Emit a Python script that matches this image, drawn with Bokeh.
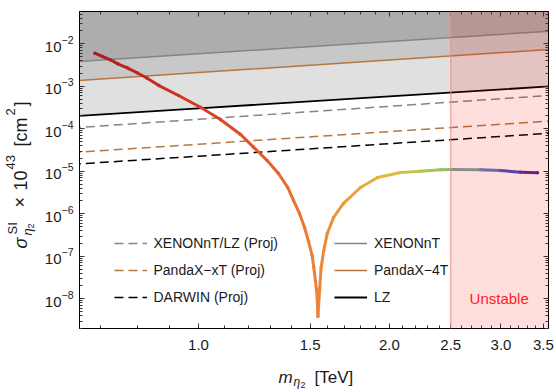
import math
from bokeh.plotting import figure
from bokeh.layouts import row, column
from bokeh.models import (FixedTicker, PrintfTickFormatter, LogTickFormatter, LogAxis,
                          CustomJSTickFormatter, Legend, LegendItem, BoxAnnotation, Span,
                          Label, LogColorMapper, ColumnDataSource)
from bokeh.transform import transform
from bokeh.embed import file_html
from bokeh.resources import INLINE

# ---------------- data ----------------
LIM_M = [0.6, 1.0, 2.0, 3.6]  # TeV
XENONNT = [3.57e-3, 5.83e-3, 1.136e-2, 2.0e-2]
PANDAX_4T = [1.27e-3, 2.10e-3, 4.15e-3, 7.42e-3]
LZ = [1.88e-4, 3.03e-4, 5.78e-4, 1.0e-3]
XENONNT_LZ_PROJ = [9.93e-5, 1.67e-4, 3.38e-4, 6.14e-4]
PANDAX_XT_PROJ = [2.62e-5, 4.33e-5, 8.58e-5, 1.53e-4]
DARWIN_PROJ = [1.38e-5, 2.27e-5, 4.46e-5, 7.89e-5]

CURVE_M = [0.686, 0.705, 0.726, 0.746, 0.772, 0.800, 0.830, 0.866, 0.930, 1.007,
           1.083, 1.165, 1.221, 1.283, 1.337, 1.382, 1.412, 1.443, 1.470, 1.491,
           1.511, 1.520, 1.529, 1.535, 1.539, 1.543,
           1.553, 1.561, 1.576, 1.596, 1.633, 1.693, 1.801, 1.916, 2.083, 2.239,
           2.408, 2.497, 2.786, 2.995, 3.220, 3.425]
CURVE_SIGMA = [6.01e-3, 5.03e-3, 4.20e-3, 3.38e-3, 2.72e-3, 2.08e-3, 1.55e-3, 1.04e-3, 6.07e-4, 3.22e-4,
               1.66e-4, 7.35e-5, 3.69e-5, 1.79e-5, 8.87e-6, 4.22e-6, 2.06e-6, 1.02e-6, 4.76e-7, 2.23e-7,
               1.04e-7, 5.45e-8, 2.70e-8, 1.57e-8, 1.02e-8, 3.84e-9,
               1.75e-8, 5.45e-8, 1.37e-7, 3.44e-7, 8.18e-7, 1.75e-6, 4.16e-6, 7.15e-6, 9.37e-6, 1.00e-5,
               1.08e-5, 1.10e-5, 1.08e-5, 1.04e-5, 9.53e-6, 9.23e-6]

X_TICKS = [1.0, 1.5, 2.0, 2.5, 3.0, 3.5]
X_MINOR = [0.7, 0.8, 0.9, 1.1, 1.2, 1.3, 1.4, 1.6, 1.7, 1.8, 1.9, 2.1, 2.2, 2.3, 2.4,
           2.6, 2.7, 2.8, 2.9, 3.1, 3.2, 3.3, 3.4]
Y_EXPONENTS = [-8, -7, -6, -5, -4, -3, -2]
UNSTABLE_FROM = 2.5
UNSTABLE_TEXT = "Unstable"
UNSTABLE_POS = (2.98, 1.0e-8)

X_RANGE = (0.649, 3.565)
Y_RANGE = (2.0e-9, 5.75e-2)

# ---------------- styles ----------------
FONT = "Liberation Sans"
TXT = "#1a1a1a"
GRAY_LINE = "#858585"
BROWN = "#b5773d"
COLOR_STOPS = [(0.686, "#a81c22"), (0.85, "#c42a22"), (1.0, "#d83c24"), (1.25, "#e5562a"),
               (1.54, "#ec843a"), (1.8, "#e6aa3a"), (2.08, "#d8c23e"), (2.24, "#b8c64a"),
               (2.41, "#98c262"), (2.59, "#80ae8e"), (2.79, "#6a8cc2"), (2.99, "#5262c6"),
               (3.22, "#4a36b0"), (3.43, "#6a1890")]

YLAB_W = 36
MAIN_W, MAIN_H = 519, 355
XLAB_H = 36
BORDER_L = 43


def build_palette(stops, n=256):
    lo, hi = math.log(stops[0][0]), math.log(stops[-1][0])
    pos = [(math.log(m) - lo) / (hi - lo) for m, _ in stops]
    cols = [tuple(int(c[i:i + 2], 16) for i in (1, 3, 5)) for _, c in stops]
    out = []
    for k in range(n):
        f = k / (n - 1)
        j = 0
        while j < len(pos) - 2 and f > pos[j + 1]:
            j += 1
        t = (f - pos[j]) / (pos[j + 1] - pos[j])
        t = min(max(t, 0.0), 1.0)
        rgb = [round(cols[j][i] + (cols[j + 1][i] - cols[j][i]) * t) for i in range(3)]
        out.append("#%02x%02x%02x" % tuple(rgb))
    return out


p = figure(width=MAIN_W, height=MAIN_H, x_axis_type="log", y_axis_type="log",
           x_range=X_RANGE, y_range=Y_RANGE, output_backend="svg", toolbar_location=None,
           min_border_left=BORDER_L, min_border_right=7, min_border_top=11, min_border_bottom=27)
p.grid.visible = False
p.outline_line_color = "black"
p.outline_line_width = 1

# excluded bands
top = [Y_RANGE[1] * 10] * len(LIM_M)
p.varea(x=LIM_M, y1=LZ, y2=top, fill_color="#e0e0e0")
p.varea(x=LIM_M, y1=PANDAX_4T, y2=top, fill_color="#c8c8c8")
p.varea(x=LIM_M, y1=XENONNT, y2=top, fill_color="#adadad")

r_xe = p.line(LIM_M, XENONNT, line_color=GRAY_LINE, line_width=1.5)
r_pd = p.line(LIM_M, PANDAX_4T, line_color=BROWN, line_width=1.5)
r_lz = p.line(LIM_M, LZ, line_color="black", line_width=1.8)
r_xep = p.line(LIM_M, XENONNT_LZ_PROJ, line_color=GRAY_LINE, line_width=1.5, line_dash="9 5")
r_pdp = p.line(LIM_M, PANDAX_XT_PROJ, line_color=BROWN, line_width=1.5, line_dash="9 5")
r_dw = p.line(LIM_M, DARWIN_PROJ, line_color="black", line_width=1.5, line_dash="9 5")

# the model curve, coloured along the mass
mapper = LogColorMapper(palette=build_palette(COLOR_STOPS), low=COLOR_STOPS[0][0], high=COLOR_STOPS[-1][0])
seg = ColumnDataSource(dict(x0=CURVE_M[:-1], y0=CURVE_SIGMA[:-1], x1=CURVE_M[1:], y1=CURVE_SIGMA[1:],
                            mc=[math.sqrt(a * b) for a, b in zip(CURVE_M[:-1], CURVE_M[1:])]))
p.segment(x0="x0", y0="y0", x1="x1", y1="y1", source=seg, line_width=3,
          line_color=transform("mc", mapper))
pts = ColumnDataSource(dict(m=CURVE_M, s=CURVE_SIGMA))
p.scatter(x="m", y="s", source=pts, size=3.5, line_color=None, fill_color=transform("m", mapper))

# unstable region
p.add_layout(BoxAnnotation(left=UNSTABLE_FROM, fill_color="red", fill_alpha=0.13, line_color=None))
p.add_layout(Span(location=UNSTABLE_FROM, dimension="height", line_color="#f08a8a", line_width=1))
p.add_layout(Label(x=UNSTABLE_POS[0], y=UNSTABLE_POS[1], text=UNSTABLE_TEXT, text_align="center",
                   text_baseline="middle", text_color="#ff2020", text_font=FONT, text_font_size="15px"))

# axes
xt = FixedTicker(ticks=X_TICKS, minor_ticks=X_MINOR)
ymaj = [10.0 ** e for e in Y_EXPONENTS]
ymin = [k * 10.0 ** e for e in range(-9, -1) for k in range(2, 10)]
yt = FixedTicker(ticks=ymaj, minor_ticks=ymin)


def style(ax):
    ax.major_tick_in = 5
    ax.major_tick_out = 0
    ax.minor_tick_in = 3
    ax.minor_tick_out = 0
    ax.axis_line_color = "black"
    ax.major_tick_line_color = "#333333"
    ax.minor_tick_line_color = "#333333"
    ax.major_label_text_font = FONT
    ax.major_label_text_font_size = "15px"
    ax.major_label_text_color = TXT


xa = p.xaxis[0]
xa.ticker = xt
xa.formatter = PrintfTickFormatter(format="%.1f")
style(xa)
xa.major_label_standoff = 11
ya = p.yaxis[0]
ya.ticker = yt
ya.formatter = LogTickFormatter()
style(ya)
ya.major_label_standoff = 6

for loc, tk in (("right", yt), ("above", xt)):
    ax = LogAxis(ticker=tk, formatter=CustomJSTickFormatter(code="return ''"))
    style(ax)
    ax.major_label_text_font_size = "0px"
    ax.major_label_standoff = 0
    p.add_layout(ax, loc)


# legends
def legend(items, x, y):
    lg = Legend(items=[LegendItem(label=l, renderers=[r]) for l, r in items], location=(x, y),
                padding=0, margin=0, spacing=7, glyph_width=33, glyph_height=20, label_height=20,
                label_standoff=7, label_text_font=FONT, label_text_font_size="14px",
                label_text_color=TXT, border_line_color=None, background_fill_alpha=0)
    p.add_layout(lg)


legend([("XENONnT/LZ (Proj)", r_xep), ("PandaX\u2212xT (Proj)", r_pdp), ("DARWIN (Proj)", r_dw)], 34.5, 21)
legend([("XENONnT", r_xe), ("PandaX\u22124T", r_pd), ("LZ", r_lz)], 255, 21)


# axis titles: small label-only figures beside and below the plot
def label_fig(w, h):
    f = figure(width=w, height=h, x_axis_location=None, y_axis_location=None, min_border=0,
               toolbar_location=None, output_backend="svg", x_range=(0, 1), y_range=(0, 1))
    f.outline_line_color = None
    f.grid.visible = False
    return f


ylab = label_fig(YLAB_W, MAIN_H + XLAB_H)
xlab = label_fig(MAIN_W, XLAB_H)


def piece(f, ox, oy, text, px, py, size, angle=0.0, italic=False):
    # px, py: page pixels; (ox, oy) = page position of the figure frame's bottom-left corner
    f.add_layout(Label(x=px - ox, y=oy - py, x_units="screen", y_units="screen", text=text,
                       angle=angle, text_font=FONT, text_font_size="%spx" % size,
                       text_font_style="italic" if italic else "normal", text_color=TXT,
                       text_align="left", text_baseline="alphabetic"))


XO, YO = YLAB_W + BORDER_L, MAIN_H + XLAB_H
piece(xlab, XO, YO, "m", 278, 377, 17, italic=True)
piece(xlab, XO, YO, "\u03b7", 293, 381, 12, italic=True)
piece(xlab, XO, YO, "2", 300, 384, 9)
piece(xlab, XO, YO, "[TeV]", 314, 377, 17)

R = math.pi / 2
piece(ylab, 0, YO, "\u03c3", 20, 248, 18, R, True)
piece(ylab, 0, YO, "SI", 12, 234, 13, R)
piece(ylab, 0, YO, "\u03b7", 27, 235, 13, R, True)
piece(ylab, 0, YO, "2", 30, 228, 9, R)
piece(ylab, 0, YO, "\u00d7", 19, 207, 18, R)
piece(ylab, 0, YO, "10", 20, 190, 18, R)
piece(ylab, 0, YO, "43", 10, 169, 13, R)
piece(ylab, 0, YO, "[cm", 20, 146, 18, R)
piece(ylab, 0, YO, "2", 10, 115, 13, R)
piece(ylab, 0, YO, "]", 20, 106, 18, R)

layout = row(ylab, column(p, xlab))
open("out.html", "w").write(file_html(layout, INLINE))
